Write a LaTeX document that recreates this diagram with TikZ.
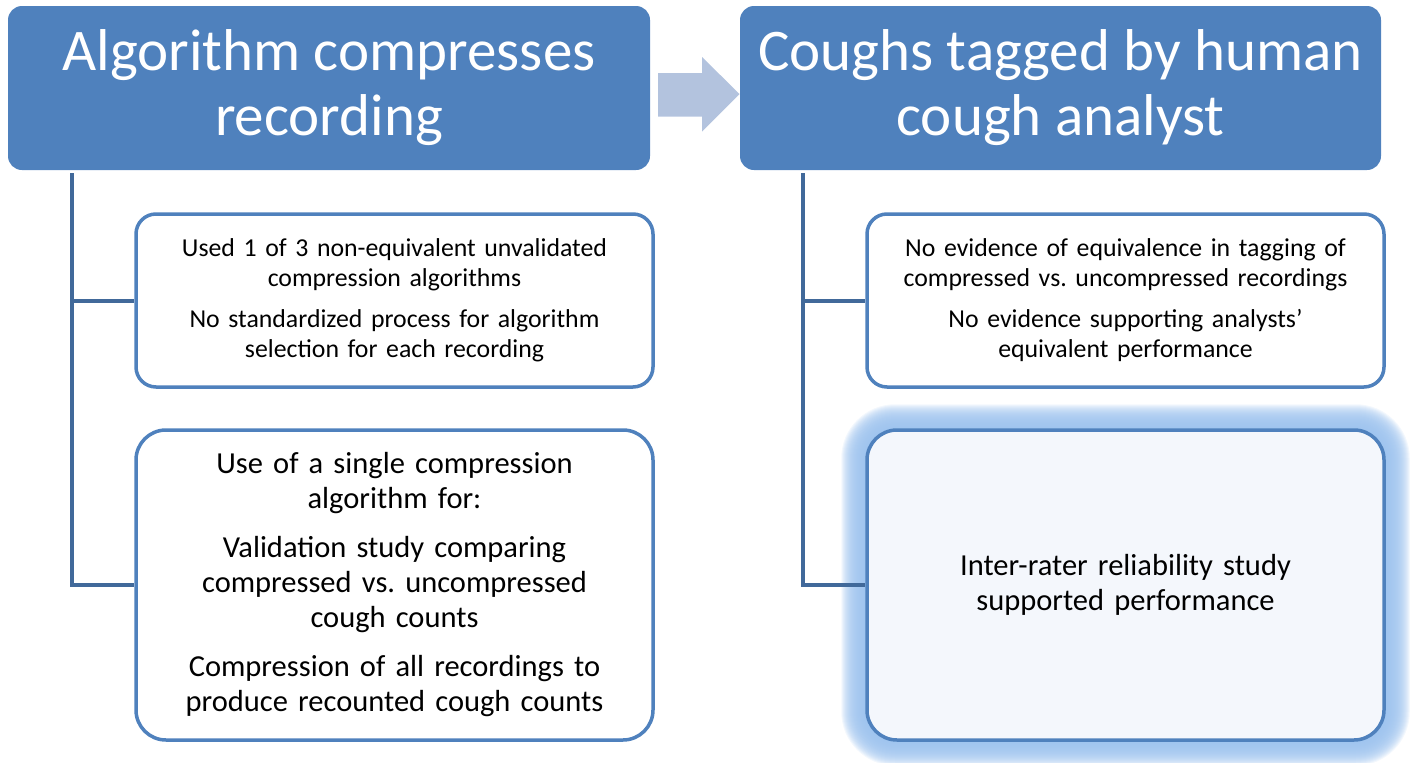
\documentclass[tikz,border=0pt]{standalone}
\usepackage{fontspec}
\setmainfont{Carlito}
\usetikzlibrary{backgrounds}
\definecolor{mainblue}{HTML}{4F81BD}
\definecolor{linkblue}{HTML}{41699A}
\definecolor{arrowblue}{HTML}{B3C3DE}
\definecolor{glowblue}{HTML}{9CC2EE}
\definecolor{paleblue}{HTML}{F4F7FC}
\frenchspacing
\tikzset{
  topbox/.style={rectangle, rounded corners=14pt, fill=mainblue, text=white,
    minimum width=642pt, minimum height=164pt, inner sep=0pt, align=center,
    font=\fontsize{59}{65}\selectfont},
  subbox/.style={rectangle, rounded corners=20pt, draw=mainblue, line width=3.5pt, fill=white,
    minimum width=517pt, inner sep=0pt, align=center, text width=505pt},
  smalltext/.style={font=\fontsize{25.8}{30}\selectfont, minimum height=173pt},
  bigtext/.style={font=\fontsize{30.5}{35}\selectfont, minimum height=310pt, rounded corners=30pt},
  link/.style={draw=linkblue, line width=4pt},
}
\begin{document}
\begin{tikzpicture}[x=1pt,y=-1pt]
\useasboundingbox (0,0) rectangle (1414,763);
\node[topbox] (tl) at (329,88) {Algorithm compresses\\recording};
\node[topbox, minimum width=641pt] (tr) at (1060.5,88) {Coughs tagged by human\\cough analyst};
\node[subbox, smalltext] (b1) at (394.5,300.5) {Used 1 of 3 non-equivalent unvalidated\\compression algorithms\\[11pt]No standardized process for algorithm\\selection for each recording};
\node[subbox, bigtext] (b2) at (394.5,585) {Use of a single compression\\algorithm for:\\[14pt]Validation study comparing\\compressed vs. uncompressed\\cough counts\\[14pt]Compression of all recordings to\\produce recounted cough counts};
\node[subbox, smalltext] (b3) at (1125.5,300.5) {No evidence of equivalence in tagging of\\compressed vs. uncompressed recordings\\[11pt]No evidence supporting analysts’\\equivalent performance};
\node[subbox, bigtext, fill=paleblue] (b4) at (1125.5,585) {Inter-rater reliability study\\supported performance};
\begin{pgfonlayer}{background}
  \foreach \i in {1,...,24} {
    \fill[glowblue, fill opacity=0.12, rounded corners={30pt+\i pt}]
      ([xshift=-\i pt, yshift=\i pt]b4.north west) rectangle ([xshift=\i pt, yshift=-\i pt]b4.south east);
  }
\end{pgfonlayer}
% block arrow between the two headers
\fill[arrowblue] (658,73) -- (702,73) -- (702,57) -- (739.5,94) -- (702,131.5) -- (702,116.5) -- (658,116.5) -- cycle;
% connectors
\coordinate (lt) at ([xshift=64pt, yshift=-3pt]tl.south west);
\coordinate (rt) at ([xshift=63pt, yshift=-3pt]tr.south west);
\draw[link] (lt) |- (b1.west);
\draw[link] (lt) |- (b2.west);
\draw[link] (rt) |- (b3.west);
\draw[link] (rt) |- (b4.west);
\end{tikzpicture}
\end{document}
